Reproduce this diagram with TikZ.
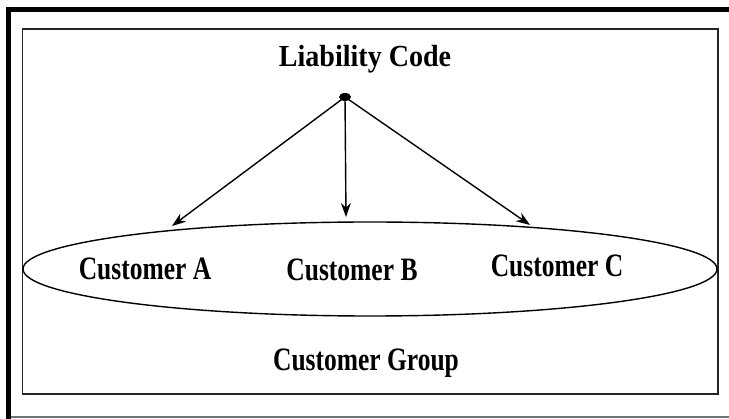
\documentclass[tikz,border=0pt]{standalone}
\usepackage{fontspec}
\usepackage{graphicx}
\setmainfont{Liberation Serif}
\usetikzlibrary{arrows.meta,shapes.geometric}
\newcommand{\stretchtxt}[1]{\scalebox{1}[1.28]{#1}}
\tikzset{
  lab/.style={font=\fontsize{25.5}{30}\selectfont\bfseries, inner sep=0pt, anchor=base},
  arr/.style={line width=1.4pt, -{Stealth[length=14pt,width=10pt]}},
  frame/.style={line width=1.8pt, draw=black!85}
}
\begin{document}
\begin{tikzpicture}[x=1pt,y=-1pt]
\useasboundingbox (0,0) rectangle (729,419);
\fill[white] (0,0) rectangle (729,419);
% outer window border
\draw[line width=5pt, black] (8.5,419) -- (8.5,9.5) -- (729,9.5);
\draw[line width=1.5pt, black!55] (11,417) -- (729,417);
% inner frame
\draw[frame] (22.5,29) rectangle (718,394);
% group ellipse
\node[ellipse, draw, line width=1.4pt, minimum width=694pt, minimum height=94pt, inner sep=0pt, outer sep=0pt] (grp) at (370,269) {};
% texts
\node[lab] (lc) at (365,67) {\scalebox{1.1}[1.2]{Liability Code}};
\node[lab] (ca) at (145,280) {\stretchtxt{Customer A}};
\node[lab] (cb) at (352,281) {\stretchtxt{Customer B}};
\node[lab] (cc) at (557,277) {\stretchtxt{Customer C}};
\node[lab] (cg) at (366,371) {\stretchtxt{Customer Group}};
% source dot
\node[ellipse, fill=black, minimum width=12pt, minimum height=8pt, inner sep=0pt] (src) at (345,97) {};
\coordinate (tA) at (172,226);
\coordinate (tB) at (346,217);
\coordinate (tC) at (530,225);
\draw[arr] (src.center) -- (tA);
\draw[arr] (src.center) -- (tB);
\draw[arr] (src.center) -- (tC);
\end{tikzpicture}
\end{document}
